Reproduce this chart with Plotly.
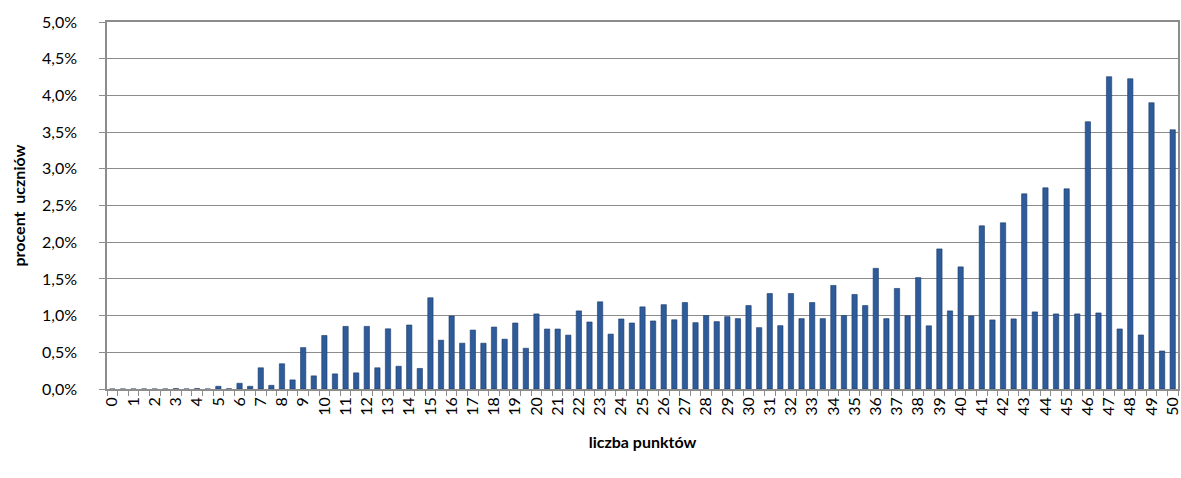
import plotly.graph_objects as go

# categories: points 0, 0.5, ..., 50 (101 categories)
points = [i / 2 for i in range(101)]
tick_labels = [str(i) for i in range(51)]
y_ticks = [0, 0.5, 1, 1.5, 2, 2.5, 3, 3.5, 4, 4.5, 5]
y_tick_labels = ["0,0%", "0,5%", "1,0%", "1,5%", "2,0%", "2,5%",
                 "3,0%", "3,5%", "4,0%", "4,5%", "5,0%"]

# percent of students per score
percent = [
    0.0, 0.0, 0.0, 0.0, 0.0, 0.0, 0.005, 0.0, 0.005, 0.0,
    0.037, 0.003, 0.078, 0.037, 0.289, 0.05, 0.344, 0.124, 0.564, 0.179,
    0.729, 0.206, 0.853, 0.220, 0.853, 0.289, 0.820, 0.310, 0.872, 0.280,
    1.243, 0.665, 0.995, 0.624, 0.803, 0.624, 0.844, 0.679, 0.899, 0.555,
    1.023, 0.817, 0.817, 0.734, 1.064, 0.913, 1.188, 0.748, 0.954, 0.899,
    1.119, 0.927, 1.149, 0.943, 1.178, 0.904, 1.000, 0.918, 0.986, 0.959,
    1.137, 0.836, 1.301, 0.863, 1.301, 0.959, 1.178, 0.959, 1.411, 1.000,
    1.288, 1.137, 1.644, 0.959, 1.370, 0.998, 1.518, 0.861, 1.909, 1.064,
    1.664, 0.995, 2.223, 0.941, 2.264, 0.955, 2.659, 1.050, 2.741, 1.023,
    2.727, 1.023, 3.641, 1.036, 4.255, 0.818, 4.227, 0.736, 3.900, 0.518,
    3.532,
]

idx = list(range(len(points)))

fig = go.Figure(go.Bar(
    x=idx, y=percent,
    marker=dict(color="#2E5B9A", line=dict(color="#1C3B68", width=0.6)),
    width=0.5,
))

grid = "#8C8C8C"
W, H = 1181, 478
ML, MR, MT, MB = 107, 3, 22, 89
plot_w = W - ML - MR

fig.update_layout(
    width=W, height=H,
    margin=dict(l=ML, r=MR, t=MT, b=MB),
    plot_bgcolor="white", paper_bgcolor="white",
    showlegend=False,
    font=dict(family="Lato, Open Sans, sans-serif", color="#000000"),
    xaxis=dict(
        range=[-0.5, 100.5],
        automargin=False,
        tickmode="array",
        tickvals=idx[::2],
        ticktext=tick_labels,
        tickangle=-90,
        ticks="",
        tickfont=dict(size=16),
        showgrid=False,
        zeroline=False,
        showline=True, linecolor=grid, linewidth=1.5, mirror=True,
        minor=dict(tick0=-0.5, dtick=1, ticks="outside", ticklen=5,
                   tickcolor=grid, tickwidth=1, showgrid=False),
        title=dict(text="<b>liczba punktów</b>", font=dict(size=16), standoff=22),
    ),
    yaxis=dict(
        range=[0, 5.0],
        automargin=False,
        tickmode="array",
        tickvals=y_ticks,
        ticktext=y_tick_labels,
        ticks="outside", ticklen=6, tickcolor=grid,
        tickfont=dict(size=16),
        ticklabelstandoff=19,
        showgrid=True, gridcolor=grid, gridwidth=1.3,
        zeroline=False,
        showline=True, linecolor=grid, linewidth=1.5, mirror=True,
    ),
    annotations=[dict(
        text="<b>procent  uczniów</b>",
        xref="paper", yref="paper",
        x=-(ML - 18) / plot_w, y=0.5,
        xanchor="center", yanchor="middle",
        textangle=-90, showarrow=False,
        font=dict(size=16),
    )],
)

fig.write_html(
    "out.html",
    config={"displayModeBar": False},
    post_script="document.body.style.margin='0';document.body.style.overflow='hidden';",
)
